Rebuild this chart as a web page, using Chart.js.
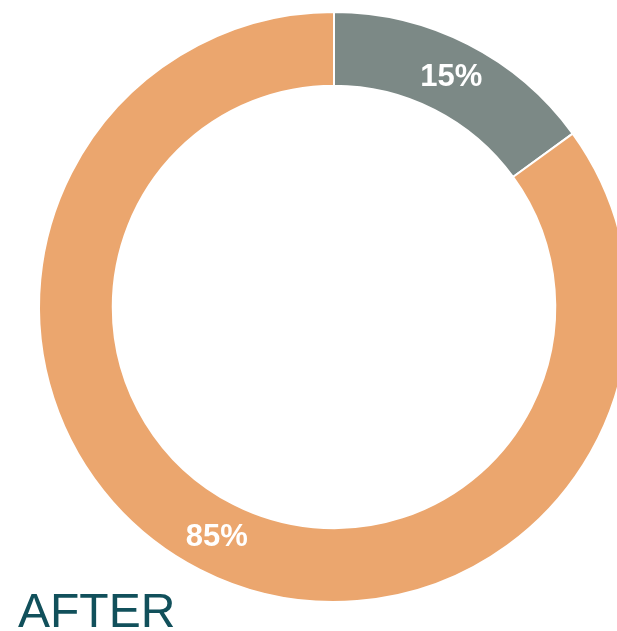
<!DOCTYPE html>
<html lang="en">
<head>
  <meta charset="UTF-8">
  <title>After</title>
  <script src="https://cdn.jsdelivr.net/npm/chart.js"></script>
  <style>
    body {
      margin: 0;
      background: #fff;
      overflow: hidden;
      width: 617px;
      height: 631px;
      position: relative;
      font-family: "Liberation Sans", Arial, sans-serif;
    }
    #chartBox {
      position: absolute;
      left: 0;
      top: 0;
      width: 668px;
      height: 614px;
    }
    #caption {
      position: absolute;
      left: 18px;
      top: 587px;
      font-size: 48px;
      line-height: 1;
      color: #11505b;
    }
  </style>
</head>
<body>
  <div id="chartBox">
    <canvas id="afterChart" width="668" height="614"></canvas>
  </div>
  <div id="caption">AFTER</div>
  <script>
    // datos del gráfico
    const labels = ['Gray', 'Orange'];
    const values = [15, 85];
    const colors = ['#7c8986', '#eba66e'];

    // etiquetas de porcentaje en el centro de cada arco
    const pctLabels = {
      id: 'pctLabels',
      afterDatasetsDraw(chart) {
        const ctx = chart.ctx;
        const meta = chart.getDatasetMeta(0);
        ctx.save();
        ctx.fillStyle = '#fff';
        ctx.font = 'bold 31px "Liberation Sans", Arial, sans-serif';
        ctx.textAlign = 'center';
        ctx.textBaseline = 'middle';
        meta.data.forEach((arc, i) => {
          const p = arc.tooltipPosition();
          ctx.fillText(values[i] + '%', p.x, p.y);
        });
        ctx.restore();
      }
    };

    new Chart(document.getElementById('afterChart'), {
      type: 'doughnut',
      data: {
        labels: labels,
        datasets: [{
          data: values,
          backgroundColor: colors,
          borderColor: '#fff',
          borderWidth: 2
        }]
      },
      options: {
        responsive: false,
        animation: false,
        radius: 295,
        cutout: '75%',
        plugins: {
          legend: { display: false },
          tooltip: { enabled: false }
        }
      },
      plugins: [pctLabels]
    });
  </script>
</body>
</html>
